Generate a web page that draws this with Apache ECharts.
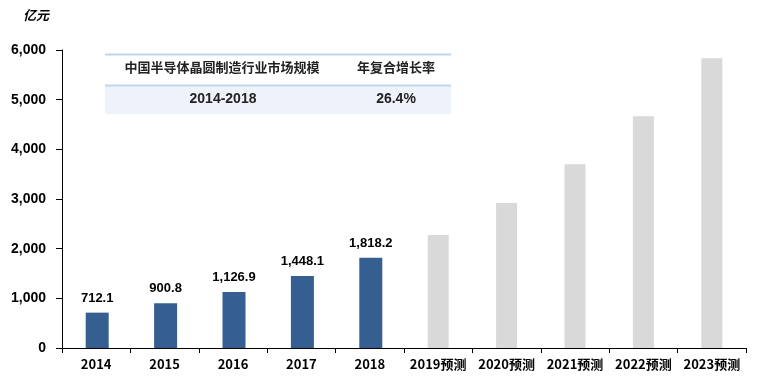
<!DOCTYPE html>
<html><head><meta charset="utf-8">
<script src="https://cdn.jsdelivr.net/npm/echarts@6/dist/echarts.min.js"></script>
<style>html,body{margin:0;padding:0;background:#fff}#c{width:761px;height:389px}</style>
</head><body><div id="c"></div>
<script>
const categories = ['2014','2015','2016','2017','2018','2019预测','2020预测','2021预测','2022预测','2023预测'];
const actualValues = [712.1, 900.8, 1126.9, 1448.1, 1818.2, null, null, null, null, null];
const forecastValues = [null, null, null, null, null, 2274, 2918, 3702, 4668, 5835];
const yTicks = [0, 1000, 2000, 3000, 4000, 5000, 6000];
const unitLabel = '亿元';
const tableHeader = ['中国半导体晶圆制造行业市场规模', '年复合增长率'];
const tableRow = ['2014-2018', '26.4%'];

const chart = echarts.init(document.getElementById('c'));
const fontNum = 'Liberation Sans, Arial, sans-serif';
const fontCJK = '"Noto Sans CJK SC", sans-serif';
chart.setOption({
  animation: false,
  grid: {left: 62, right: 15, top: 50, bottom: 41},
  xAxis: {
    type: 'category', data: categories,
    axisLine: {lineStyle: {color: '#000', width: 1}},
    axisTick: {show: true, alignWithLabel: false, length: 5, lineStyle: {color: '#000'}},
    axisLabel: {color: '#000', fontWeight: 'bold', fontSize: 13, fontFamily: fontCJK, margin: 10, interval: 0}
  },
  yAxis: {
    type: 'value', min: yTicks[0], max: yTicks[yTicks.length-1], interval: 1000,
    splitLine: {show: false},
    axisLine: {show: true, lineStyle: {color: '#000'}},
    axisTick: {show: true, length: 6, lineStyle: {color: '#000'}},
    axisLabel: {color: '#000', fontWeight: 'bold', fontSize: 14, fontFamily: fontNum, margin: 16,
      formatter: v => v.toLocaleString('en-US')}
  },
  series: [
    {type: 'bar', data: actualValues, barWidth: 23, barGap: '-100%',
     itemStyle: {color: '#365F91'},
     label: {show: true, position: 'top', distance: 8, color: '#000', fontWeight: 'bold', fontSize: 13, fontFamily: fontNum,
       formatter: p => p.value == null ? '' : p.value.toLocaleString('en-US', {minimumFractionDigits: 1, maximumFractionDigits: 1})}},
    {type: 'bar', data: forecastValues, barWidth: 21,
     itemStyle: {color: '#D9D9D9'}}
  ],
  graphic: [
    {type: 'text', left: 23, top: 9, style: {text: unitLabel, font: 'bold italic 13px ' + fontCJK, fill: '#000'}},
    {type: 'rect', shape: {x: 105, y: 85, width: 346, height: 29}, style: {fill: '#EEF2FA'}},
    {type: 'line', shape: {x1: 105, y1: 54.5, x2: 451, y2: 54.5}, style: {stroke: '#BDD7EE', lineWidth: 2}},
    {type: 'line', shape: {x1: 105, y1: 85.5, x2: 451, y2: 85.5}, style: {stroke: '#BDD7EE', lineWidth: 2}},
    {type: 'text', x: 222, y: 67, style: {text: tableHeader[0], font: 'bold 13px ' + fontCJK, fill: '#222', align: 'center', verticalAlign: 'middle'}},
    {type: 'text', x: 396, y: 67, style: {text: tableHeader[1], font: 'bold 13px ' + fontCJK, fill: '#222', align: 'center', verticalAlign: 'middle'}},
    {type: 'text', x: 223, y: 99, style: {text: tableRow[0], font: 'bold 14px ' + fontNum, fill: '#222', align: 'center', verticalAlign: 'middle'}},
    {type: 'text', x: 396, y: 99, style: {text: tableRow[1], font: 'bold 14px ' + fontNum, fill: '#222', align: 'center', verticalAlign: 'middle'}}
  ]
});
</script></body></html>
